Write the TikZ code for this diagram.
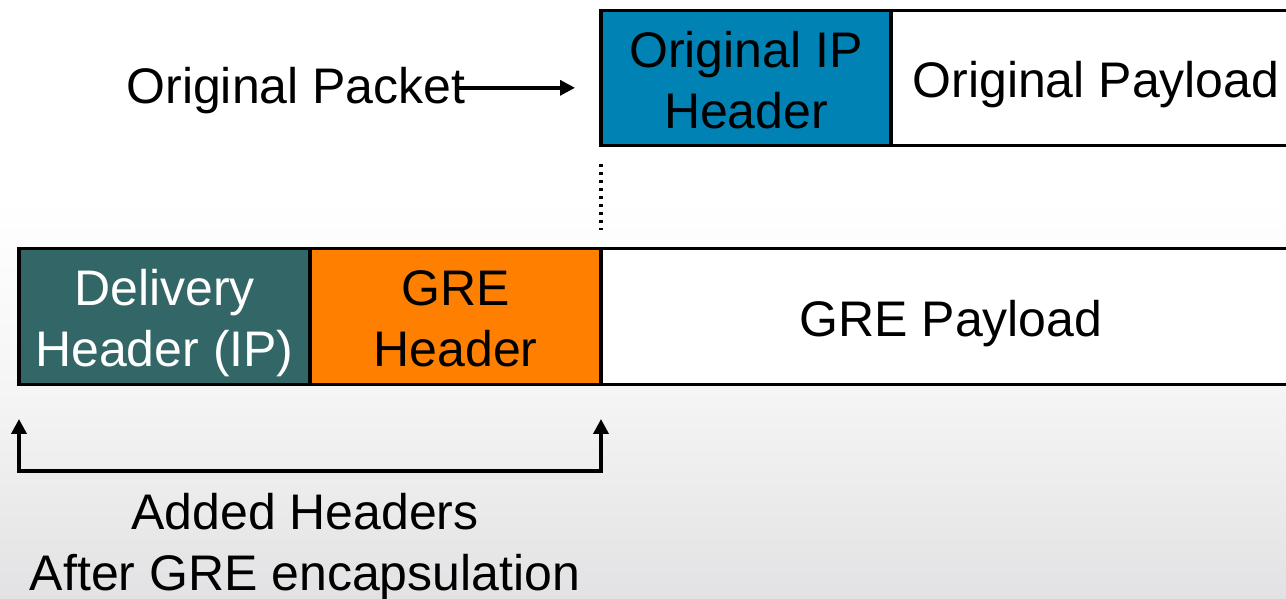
\documentclass[tikz,border=0pt]{standalone}
\usepackage{fontspec}
\setmainfont{Liberation Sans}
\usetikzlibrary{arrows.meta}
\definecolor{ipblue}{RGB}{0,130,180}
\definecolor{dteal}{RGB}{51,102,102}
\definecolor{greorange}{RGB}{255,128,0}
\definecolor{bgmid}{RGB}{245,245,245}
\definecolor{bgbot}{RGB}{226,226,228}
\newcommand{\firststrut}{\rule{0pt}{40pt}}
\begin{document}
\begin{tikzpicture}[x=1pt,y=1pt,
  bigfont/.style={font=\fontsize{50}{61}\selectfont},
  box/.style={draw=black, line width=3.5pt, inner sep=0pt, outer sep=0pt, bigfont},
  onebox/.style={box, text height=40pt, text depth=0pt},
  lbl/.style={inner sep=0pt, outer sep=0pt, bigfont},
  arr/.style={line width=3.4pt, -{Triangle[length=15pt,width=15pt]}},
  brk/.style={line width=3.6pt, line join=miter, {Triangle[length=15pt,width=15pt]}-{Triangle[length=15pt,width=15pt]}},
  dotline/.style={line width=3.5pt, dash pattern=on 3.5pt off 4.5pt}
]
\useasboundingbox (0,0) rectangle (1286,599);
\clip (0,0) rectangle (1286,599);
% background
\fill[white] (0,398) rectangle (1286,599);
\shade[top color=white, bottom color=bgmid] (0,208.5) rectangle (1286,399);
\shade[top color=bgmid, bottom color=bgbot] (0,0) rectangle (1286,209);

% original packet
\node[box, fill=ipblue, align=center, minimum width=290, minimum height=135] (oiph) at (746,521) {\firststrut Original IP\\Header};
\node[onebox, fill=white, minimum width=410, minimum height=135] (opay) at (1096,521) {Original Payload};

% GRE packet
\node[box, fill=dteal, text=white, align=center, minimum width=291, minimum height=136] (dh) at (164.5,282.5) {\firststrut Delivery\\Header \smash{(IP)}};
\node[box, fill=greorange, align=center, minimum width=291, minimum height=136] (gre) at (455.5,282.5) {\firststrut GRE\\Header};
\node[onebox, fill=white, minimum width=700, minimum height=136] (grep) at (951,282.5) {GRE Payload};

% label Original Packet with arrow
\node[lbl, anchor=base] (op) at (296,495.5) {Original Packet};
\coordinate (ptail) at ([xshift=-11pt,yshift=2.75pt]op.east);
\path (ptail -| oiph.west) coordinate (phead0);
\draw[arr] (ptail) -- ([xshift=-26pt]phead0);

% dotted alignment line
\draw[dotline] ([yshift=-18.5pt]oiph.south west) -- ([yshift=18.5pt]gre.north east);

% bracket
\draw[brk] ([yshift=-34.5pt]dh.south west) -- ([yshift=-86.5pt]dh.south west)
  -- ([yshift=-86.5pt]gre.south east) -- ([yshift=-34.5pt]gre.south east);

\node[lbl, align=center, anchor=north] (added) at (305,109) {\firststrut Added Headers\\After GRE encapsulation};
\end{tikzpicture}
\end{document}
